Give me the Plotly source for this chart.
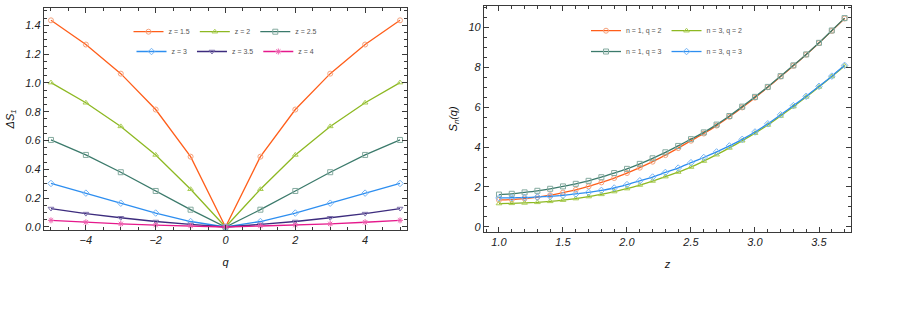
import plotly.graph_objects as go

# ---------------- data: left panel ----------------
q_vals = [-5, -4, -3, -2, -1, 0, 1, 2, 3, 4, 5]
ds_z15 = [1.434, 1.266, 1.064, 0.815, 0.488, 0.0, 0.488, 0.815, 1.064, 1.266, 1.434]
ds_z20 = [1.002, 0.862, 0.698, 0.500, 0.262, 0.0, 0.262, 0.500, 0.698, 0.862, 1.002]
ds_z25 = [0.604, 0.500, 0.380, 0.250, 0.120, 0.0, 0.120, 0.250, 0.380, 0.500, 0.604]
ds_z30 = [0.302, 0.235, 0.165, 0.097, 0.038, 0.0, 0.038, 0.097, 0.165, 0.235, 0.302]
ds_z35 = [0.128, 0.093, 0.064, 0.038, 0.018, 0.0, 0.018, 0.038, 0.064, 0.093, 0.128]
ds_z40 = [0.046, 0.033, 0.022, 0.013, 0.007, 0.0, 0.007, 0.013, 0.022, 0.033, 0.046]
left_labels = ["z = 1.5", "z = 2", "z = 2.5", "z = 3", "z = 3.5", "z = 4"]

# ---------------- data: right panel ----------------
z_vals = [1.0, 1.1, 1.2, 1.3, 1.4, 1.5, 1.6, 1.7, 1.8, 1.9, 2.0, 2.1, 2.2, 2.3,
          2.4, 2.5, 2.6, 2.7, 2.8, 2.9, 3.0, 3.1, 3.2, 3.3, 3.4, 3.5, 3.6, 3.7]
s_n1_q2 = [1.35, 1.37, 1.42, 1.49, 1.59, 1.72, 1.86, 2.03, 2.23, 2.45, 2.70, 2.97, 3.27, 3.60,
           3.95, 4.32, 4.68, 5.08, 5.52, 5.99, 6.48, 7.00, 7.54, 8.08, 8.64, 9.22, 9.83, 10.45]
s_n3_q2 = [1.17, 1.18, 1.20, 1.23, 1.28, 1.34, 1.42, 1.52, 1.63, 1.77, 1.92, 2.10, 2.30, 2.52,
           2.75, 3.00, 3.30, 3.62, 3.96, 4.32, 4.70, 5.11, 5.56, 6.03, 6.52, 7.02, 7.54, 8.07]
s_n1_q3 = [1.62, 1.66, 1.73, 1.81, 1.91, 2.03, 2.16, 2.31, 2.49, 2.70, 2.91, 3.16, 3.44, 3.74,
           4.06, 4.40, 4.74, 5.13, 5.56, 6.03, 6.52, 7.02, 7.56, 8.10, 8.65, 9.23, 9.85, 10.47]
s_n3_q3 = [1.45, 1.46, 1.47, 1.50, 1.53, 1.58, 1.65, 1.73, 1.83, 1.95, 2.12, 2.31, 2.50, 2.73,
           2.95, 3.22, 3.48, 3.76, 4.06, 4.39, 4.76, 5.17, 5.62, 6.08, 6.55, 7.05, 7.56, 8.10]

# ---------------- styles ----------------
ORANGE = ("#FF5E1A", "#F5A27C")
GREEN = ("#8DB822", "#AACD55")
TEAL = ("#3B7A6B", "#84AA9F")
BLUE = ("#2D8EF0", "#74B4F5")
NAVY = ("#3D2C7E", "#7F72AC")
PINK = ("#E5198C", "#EE5FAE")

FRAME = "#3a3a3a"
FONT = "Liberation Sans"

fig = go.Figure()

left_series = [
    (ds_z15, ORANGE, "circle-open", "legend"),
    (ds_z20, GREEN, "triangle-up-open", "legend"),
    (ds_z25, TEAL, "square-open", "legend"),
    (ds_z30, BLUE, "diamond-open", "legend2"),
    (ds_z35, NAVY, "triangle-down-open", "legend2"),
    (ds_z40, PINK, "asterisk-open", "legend2"),
]
for (vals, col, sym, leg), name in zip(left_series, left_labels):
    fig.add_trace(go.Scatter(
        x=q_vals, y=vals, name=name, mode="lines+markers",
        line=dict(color=col[0], width=1.3),
        marker=dict(symbol=sym, size=5, color=col[1], line=dict(width=1, color=col[1])),
        xaxis="x", yaxis="y", legend=leg,
    ))

right_series = [
    (s_n1_q2, ORANGE, "circle-open", "legend3", "n = 1, q = 2"),
    (s_n3_q2, GREEN, "triangle-up-open", "legend3", "n = 3, q = 2"),
    (s_n1_q3, TEAL, "square-open", "legend4", "n = 1, q = 3"),
    (s_n3_q3, BLUE, "diamond-open", "legend4", "n = 3, q = 3"),
]
for vals, col, sym, leg, name in right_series:
    fig.add_trace(go.Scatter(
        x=z_vals, y=vals, name=name, mode="lines+markers",
        line=dict(color=col[0], width=1.3, shape="spline", smoothing=0.6),
        marker=dict(symbol=sym, size=5, color=col[1], line=dict(width=1, color=col[1])),
        xaxis="x2", yaxis="y2", legend=leg,
    ))

tickfont = dict(family=FONT, size=11, color="#222", style="italic")
titlefont = dict(family=FONT, size=11, color="#111", style="italic")


def axis(domain, rng, dtick, minor_dtick, anchor, fmt, title, standoff):
    return dict(
        domain=domain, range=rng, anchor=anchor, dtick=dtick, tick0=0,
        showgrid=False, zeroline=False, showline=True, linecolor=FRAME, linewidth=1.3,
        mirror="allticks", ticks="inside", ticklen=5, tickwidth=1, tickcolor=FRAME,
        minor=dict(dtick=minor_dtick, ticks="inside", ticklen=2.5, tickwidth=0.8,
                   tickcolor=FRAME, showgrid=False),
        tickformat=fmt, tickfont=tickfont,
        title=dict(text=title, font=titlefont, standoff=standoff),
    )


W, H = 902, 328
fig.update_layout(
    width=W, height=H,
    margin=dict(l=0, r=0, t=0, b=0),
    paper_bgcolor="white", plot_bgcolor="white",
    xaxis=axis([44 / W, 407 / W], [-5.2, 5.2], 2, 0.5, "y", "d", "<i>q</i>", 13),
    yaxis=axis([1 - 232 / H, 1 - 8 / H], [-0.02, 1.52], 0.2, 0.05, "x", ".1f",
               "<i>ΔS</i><sub>1</sub>", 8),
    xaxis2=axis([484 / W, 851 / W], [0.883, 3.75], 0.5, 0.1, "y2", ".1f", "<i>z</i>", 13),
    yaxis2=axis([1 - 234 / H, 1 - 6 / H], [-0.25, 11.08], 2, 0.5, "x2", "d",
                "<i>S</i><sub><i>n</i></sub><i>(q)</i>", 8),
    showlegend=True,
)

legfont = dict(family=FONT, size=7, color="#555")


def legend(xc, yc):
    return dict(orientation="h", x=xc, y=yc, xanchor="center", yanchor="middle",
                xref="paper", yref="paper", bgcolor="rgba(0,0,0,0)", borderwidth=0,
                font=legfont, itemwidth=30, tracegroupgap=0, itemclick=False)


fig.update_layout(
    legend=legend(225.5 / W, 1 - 32 / H),
    legend2=legend(225.5 / W, 1 - 52 / H),
    legend3=legend(667 / W, 1 - 31 / H),
    legend4=legend(667 / W, 1 - 52 / H),
)

fig.write_html("out.html")
